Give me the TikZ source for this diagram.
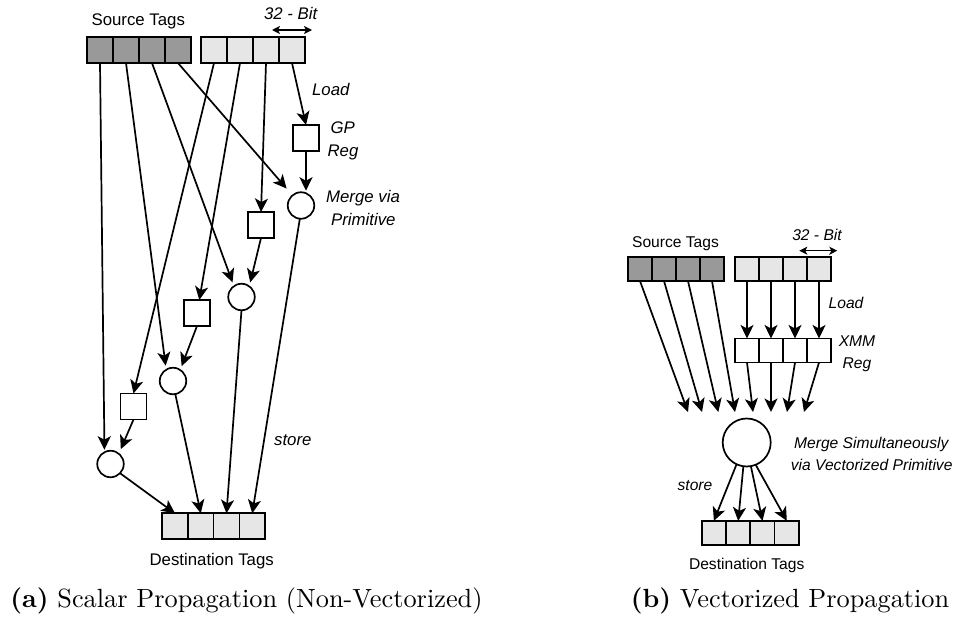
\documentclass[tikz,border=0pt]{standalone}
\usepackage{fontspec}
\newfontfamily\lab{Liberation Sans}
\usetikzlibrary{arrows.meta}
\definecolor{darkcell}{HTML}{999999}
\definecolor{lightcell}{HTML}{E6E6E6}
\tikzset{
  cell/.style={draw, line width=1.7pt, minimum width=26pt, minimum height=26pt,
    inner sep=0pt, outer sep=0pt},
  rcell/.style={cell, minimum width=24pt, minimum height=24pt},
  dark/.style={fill=darkcell},
  light/.style={fill=lightcell},
  merge/.style={circle, draw, line width=1.7pt, minimum size=26.5pt,
    inner sep=0pt, outer sep=0pt, fill=white},
  arr/.style={line width=1.7pt, -{Stealth[length=13.5pt,width=13pt,inset=3.5pt]}},
  dim/.style={line width=1.3pt, {Stealth[length=8pt,width=8pt,inset=2pt]}-{Stealth[length=8pt,width=8pt,inset=2pt]}},
  lblA/.style={font=\lab\fontsize{16.8}{20}\selectfont, anchor=base, inner sep=0pt},
  ilblA/.style={font=\lab\itshape\fontsize{16.8}{20}\selectfont, anchor=base, inner sep=0pt},
  lblB/.style={font=\lab\fontsize{15.6}{19}\selectfont, anchor=base, inner sep=0pt},
  ilblB/.style={font=\lab\itshape\fontsize{15.6}{19}\selectfont, anchor=base, inner sep=0pt},
  capt/.style={font=\normalsize, anchor=base, inner sep=0pt, scale=2.63, transform shape},
}
\begin{document}
\begin{tikzpicture}[x=1pt, y=-1pt]
\useasboundingbox (0,0) rectangle (955,626);

% ---------------- (a) scalar propagation ----------------
\foreach \i/\x in {1/100,2/126,3/152,4/178}
  \node[cell, dark] (d\i) at (\x,50) {};
\foreach \i/\x in {1/214,2/240,3/266,4/292}
  \node[cell, light] (l\i) at (\x,50) {};

\node[cell] (g4) at (306,138) {};
\node[cell] (g3) at (261,225) {};
\node[cell] (g2) at (197,313) {};
\node[cell] (g1) at (133.5,406.5) {};

\node[merge] (m4) at (301,205.5) {};
\node[merge] (m3) at (241.5,297) {};
\node[merge] (m2) at (173,381) {};
\node[merge] (m1) at (110.5,464) {};

\foreach \i/\x in {1/175,2/200.75,3/226.5,4/252.25}
  \node[cell, light, minimum width=25.75pt] (t\i) at (\x,526.3) {};

% source tags straight to the merge units
\draw[arr, shorten >=2.5pt] (d1.south) -- (m1.117);
\draw[arr, shorten >=4pt] (d2.south) -- (m2.121);
\draw[arr, shorten >=4pt] (d3.south) -- (m3.125);
\draw[arr, shorten >=9pt] (d4.south) -- (m4.130);

% loads into general purpose registers
\draw[arr] (l1.south) -- (g1.north);
\draw[arr] (l2.south) -- (g2.80);
\draw[arr] (l3.south) -- (g3.north);
\draw[arr] (l4.south) -- (g4.north);

% registers into the merge units
\draw[arr, shorten >=2.5pt] (g4.south) -- (m4.68);
\draw[arr, shorten >=4pt] (g3.south) -- (m3.54);
\draw[arr, shorten >=4pt] (g2.south) -- (m2.57);
\draw[arr, shorten >=5pt] (g1.south) -- (m1.51);

% stores
\draw[arr] (m1.-44) -- (t1.north);
\draw[arr] (m2.-80) -- (t2.north);
\draw[arr] (m3.south) -- (t3.north);
\draw[arr] (m4.-95) -- (t4.north);

\coordinate (bitAl) at (272,30);
\coordinate (bitAr) at (312,30);
\draw[dim] (bitAl) -- (bitAr);

\node[lblA] (srcA) at (138.3,25.5) {Source Tags};
\node[ilblA] (bitA) at (290.7,20) {32 - Bit};
\node[ilblA] (loadA) at (330.8,95) {Load};
\node[ilblA] (gpA) at (342.7,133) {GP};
\node[ilblA] (regA) at (343,156.7) {Reg};
\node[ilblA] (mvA) at (363,202.3) {Merge via};
\node[ilblA] (primA) at (363.3,225.7) {Primitive};
\node[ilblA] (storeA) at (292.8,445) {store};
\node[lblA] (dstA) at (211.7,565) {Destination Tags};

\node[capt] (capA) at (246.5,607) {\textbf{(a)} Scalar Propagation (Non-Vectorized)};

% ---------------- (b) vectorized propagation ----------------
\foreach \i/\x in {1/640,2/664,3/688,4/712}
  \node[rcell, dark] (D\i) at (\x,269) {};
\foreach \i/\x in {1/747,2/771,3/795,4/819}{
  \node[rcell, light] (L\i) at (\x,269) {};
  \node[rcell, fill=white] (X\i) at (\x,350.5) {};
  \draw[arr] (L\i.south) -- (X\i.north);
}

\node[merge, minimum size=48pt] (C) at (746.7,442.5) {};

\foreach \i/\x in {1/688,2/702,3/718.3,4/735,5/753,6/771,7/787,8/804}
  \coordinate (in\i) at (\x,412);

\foreach \i in {1,2,3,4}
  \draw[arr] (D\i.south) -- (in\i);
\draw[arr] (X1.south) -- (in5);
\draw[arr] (X2.south) -- (in6);
\draw[arr] (X3.south) -- (in7);
\draw[arr] (X4.south) -- (in8);

\foreach \i/\x in {1/713.9,2/738.2,3/762.5,4/786.8}
  \node[rcell, light, minimum width=24.33pt, minimum height=24.3pt] (T\i) at (\x,533) {};

\draw[arr] (C.-115) -- (T1.north);
\draw[arr] (C.-98) -- (T2.north);
\draw[arr] (C.-80) -- (T3.north);
\draw[arr] (C.-68) -- (T4.north);

\coordinate (bitBl) at (799.3,250.7);
\coordinate (bitBr) at (837.3,250.7);
\draw[dim] (bitBl) -- (bitBr);

\node[lblB] (srcB) at (675.5,247.7) {Source Tags};
\node[ilblB] (bitB) at (817,240) {32 - Bit};
\node[ilblB] (loadB) at (846,308.3) {Load};
\node[ilblB] (xmmB) at (857,346) {XMM};
\node[ilblB] (regB) at (857,368.3) {Reg};
\node[ilblB] (msB) at (871.3,448.3) {Merge Simultaneously};
\node[ilblB] (vvB) at (871.7,470) {via Vectorized Primitive};
\node[ilblB] (storeB) at (695,490) {store};
\node[lblB] (dstB) at (746.7,569.3) {Destination Tags};

\node[capt] (capB) at (790,607) {\textbf{(b)} Vectorized Propagation};
\end{tikzpicture}
\end{document}
